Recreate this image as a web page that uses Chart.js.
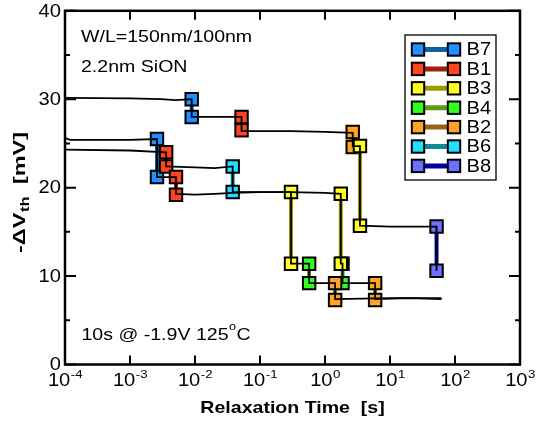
<!DOCTYPE html>
<html>
<head>
<meta charset="utf-8">
<script src="https://cdn.jsdelivr.net/npm/chart.js@4.4.0/dist/chart.umd.min.js"></script>
<style>
  html, body { margin: 0; padding: 0; background: #fff; }
  #wrap { width: 537px; height: 422px; }
</style>
</head>
<body>
<div id="wrap"><canvas id="chart" width="537" height="422"></canvas></div>
<script>
// relaxation traces (time in s, -dVth in mV)
const traceATime = [1e-4, 1e-3, 3e-3, 5e-3, 0.0089, 0.0089, 0.02, 0.052, 0.052, 0.3, 1.0, 2.67, 2.67, 3.45, 3.45, 10, 52, 52];
const traceAVth  = [30.15, 30.1, 30.0, 29.9, 30.0, 28.0, 28.0, 28.0, 26.4, 26.4, 26.3, 26.2, 24.7, 24.7, 15.7, 15.6, 15.6, 10.6];

const traceBTime = [1e-4, 1.2e-4, 1e-3, 0.0026, 0.0026, 0.0051, 0.0051, 0.01, 0.02, 0.038, 0.1, 0.3, 0.3, 0.57, 0.57, 1.43, 1.43, 10, 62];
const traceBVth  = [25.6, 25.4, 25.4, 25.5, 21.2, 21.2, 19.3, 19.2, 19.3, 19.4, 19.5, 19.5, 11.4, 11.4, 9.2, 9.2, 7.4, 7.5, 7.5];

const traceCTime = [1e-4, 1e-3, 0.0036, 0.0036, 0.01, 0.02, 0.038, 0.038, 0.3, 1.0, 1.75, 1.75, 1.86, 1.86, 5.9, 5.9, 20, 62];
const traceCVth  = [24.3, 24.2, 24.0, 22.4, 22.3, 22.2, 22.4, 19.5, 19.5, 19.4, 19.3, 11.4, 11.4, 9.2, 9.2, 7.4, 7.5, 7.4];

// single defect steps: emission time, level before, level after
const b7Time = [0.0089, 0.0026];       const b7Before = [30.0, 25.5];       const b7After = [28.0, 21.2];
const b1Time = [0.052, 0.0036, 0.0051]; const b1Before = [28.0, 24.0, 21.2]; const b1After = [26.5, 22.4, 19.2];
const b3Time = [3.45, 0.30, 1.75];     const b3Before = [24.7, 19.5, 19.3]; const b3After = [15.7, 11.4, 11.4];
const b4Time = [0.57, 1.86];           const b4Before = [11.4, 11.4];       const b4After = [9.2, 9.2];
const b2Time = [2.67, 1.43, 5.9];      const b2Before = [26.3, 9.2, 9.2];   const b2After = [24.6, 7.3, 7.3];
const b6Time = [0.038];                const b6Before = [22.4];             const b6After = [19.5];
const b8Time = [52];                   const b8Before = [15.6];             const b8After = [10.6];

const legendNames = ['B7', 'B1', 'B3', 'B4', 'B2', 'B6', 'B8'];

const xTickValues = [1e-4, 1e-3, 1e-2, 1e-1, 1e0, 1e1, 1e2, 1e3];
const yTickValues = [0, 10, 20, 30, 40];
const yMinorTicks = [5, 15, 25, 35];

const colors = {
  B7: ['#1e90ff', '#0f5fa5'],
  B1: ['#ff4420', '#a01e0a'],
  B3: ['#ffff22', '#9c9c00'],
  B4: ['#33ff1f', '#5c9a12'],
  B2: ['#ffa326', '#9c6012'],
  B6: ['#1ee1ff', '#0f8a9a'],
  B8: ['#6e6eff', '#0000a0']
};

const FONT = '"Liberation Sans", Arial, Helvetica, sans-serif';
const SX = 1.15;

function toPoints(t, v) {
  return t.map((x, i) => ({ x: x, y: v[i] }));
}

function stepPairs(t, before, after) {
  const out = [];
  t.forEach((x, i) => {
    if (i > 0) out.push({ x: x, y: null });
    out.push({ x: x, y: before[i] });
    out.push({ x: x, y: after[i] });
  });
  return out;
}

function trace(t, v) {
  return {
    data: toPoints(t, v),
    borderColor: '#000',
    borderWidth: 1.8,
    pointRadius: 0,
    tension: 0
  };
}

function defect(name, t, before, after) {
  return {
    label: name,
    data: stepPairs(t, before, after),
    borderColor: colors[name][1],
    borderWidth: 4,
    spanGaps: false,
    pointStyle: 'rect',
    pointRadius: 8.8,
    pointHoverRadius: 8.8,
    pointBackgroundColor: colors[name][0],
    pointBorderColor: '#000',
    pointBorderWidth: 2,
    tension: 0
  };
}

function txt(ctx, s, x, y, font, align, sx) {
  ctx.save();
  ctx.font = font;
  const w = ctx.measureText(s).width * sx;
  const x0 = align === 'center' ? x - w / 2 : align === 'right' ? x - w : x;
  ctx.translate(x0, y);
  ctx.scale(sx, 1);
  ctx.textAlign = 'left';
  ctx.fillText(s, 0, 0);
  ctx.restore();
  return w;
}

function textWidth(ctx, s, font) {
  ctx.save();
  ctx.font = font;
  const w = ctx.measureText(s).width;
  ctx.restore();
  return w;
}

const decorations = {
  id: 'decorations',
  afterDraw(chart) {
    const ctx = chart.ctx;
    const a = chart.chartArea;
    const xs = chart.scales.x, ys = chart.scales.y;
    ctx.save();
    ctx.fillStyle = '#000';
    ctx.strokeStyle = '#000';

    // inner ticks
    ctx.lineWidth = 2;
    ctx.beginPath();
    xTickValues.forEach(v => {
      const p = xs.getPixelForValue(v);
      ctx.moveTo(p, a.bottom); ctx.lineTo(p, a.bottom - 9);
      ctx.moveTo(p, a.top); ctx.lineTo(p, a.top + 9);
    });
    yTickValues.forEach(v => {
      const p = ys.getPixelForValue(v);
      ctx.moveTo(a.left, p); ctx.lineTo(a.left + 11, p);
      ctx.moveTo(a.right, p); ctx.lineTo(a.right - 11, p);
    });
    yMinorTicks.forEach(v => {
      const p = ys.getPixelForValue(v);
      ctx.moveTo(a.left, p); ctx.lineTo(a.left + 5, p);
      ctx.moveTo(a.right, p); ctx.lineTo(a.right - 5, p);
    });
    ctx.stroke();

    // frame
    ctx.lineWidth = 2.5;
    ctx.strokeRect(a.left, a.top, a.right - a.left, a.bottom - a.top);

    // y tick labels
    ctx.textBaseline = 'middle';
    yTickValues.forEach(v => {
      txt(ctx, String(v), a.left - 4, ys.getPixelForValue(v) + 1, '17.5px ' + FONT, 'right', SX);
    });

    // x tick labels as 10^n
    ctx.textBaseline = 'alphabetic';
    const baseFont = '17.5px ' + FONT, expFont = '11.5px ' + FONT;
    xTickValues.forEach(v => {
      const e = String(Math.round(Math.log10(v)));
      const wb = textWidth(ctx, '10', baseFont) * SX;
      const we = textWidth(ctx, e, expFont) * SX;
      const p = xs.getPixelForValue(v);
      const x0 = p - (wb + we) / 2;
      txt(ctx, '10', x0, 386, baseFont, 'left', SX);
      txt(ctx, e, x0 + wb + 0.5, 377.5, expFont, 'left', SX);
    });

    // x title
    txt(ctx, 'Relaxation Time  [s]', (a.left + a.right) / 2, 413, 'bold 17px ' + FONT, 'center', SX);

    // y title, rotated, with subscript
    const fMain = 'bold 17px ' + FONT, fSub = 'bold 12px ' + FONT;
    const p1 = '-\u0394V', p2 = 'th', p3 = '  [mV]';
    const w1 = textWidth(ctx, p1, fMain), w2 = textWidth(ctx, p2, fSub), w3 = textWidth(ctx, p3, fMain);
    const total = w1 + w2 + w3;
    const target = 121;
    const k = target / total;
    ctx.save();
    ctx.translate(25, 192.5 + target / 2);
    ctx.rotate(-Math.PI / 2);
    ctx.scale(k, 1);
    ctx.font = fMain; ctx.fillText(p1, 0, 0);
    ctx.font = fSub; ctx.fillText(p2, w1 + 0.5, 4);
    ctx.font = fMain; ctx.fillText(p3, w1 + w2, 0);
    ctx.restore();

    // annotations
    const fAnn = '17px ' + FONT;
    txt(ctx, 'W/L=150nm/100nm', 81, 41.5, fAnn, 'left', SX);
    txt(ctx, '2.2nm SiON', 81, 71.5, fAnn, 'left', SX);
    let w = txt(ctx, '10s @ -1.9V 125', 81.5, 339.5, fAnn, 'left', SX);
    const wo = txt(ctx, 'o', 81.5 + w + 0.5, 330, '11px ' + FONT, 'left', SX);
    txt(ctx, 'C', 81.5 + w + wo + 1, 339.5, fAnn, 'left', SX);

    // legend box
    ctx.lineWidth = 1.3;
    ctx.fillStyle = '#fff';
    ctx.fillRect(405, 35, 91, 145);
    ctx.strokeRect(405, 35, 91, 145);
    legendNames.forEach((name, i) => {
      const cy = 49.5 + i * 19.4;
      ctx.strokeStyle = colors[name][1];
      ctx.lineWidth = 5;
      ctx.beginPath();
      ctx.moveTo(418, cy); ctx.lineTo(454, cy);
      ctx.stroke();
      [418, 454].forEach(cx => {
        ctx.fillStyle = colors[name][0];
        ctx.fillRect(cx - 6.2, cy - 6.2, 12.4, 12.4);
        ctx.strokeStyle = '#000';
        ctx.lineWidth = 2;
        ctx.strokeRect(cx - 6.2, cy - 6.2, 12.4, 12.4);
      });
      ctx.fillStyle = '#000';
      ctx.textBaseline = 'middle';
      txt(ctx, name, 466.5, cy + 1, '17.5px ' + FONT, 'left', SX);
    });
    ctx.restore();
  }
};

new Chart(document.getElementById('chart'), {
  type: 'line',
  data: {
    datasets: [
      trace(traceATime, traceAVth),
      trace(traceBTime, traceBVth),
      trace(traceCTime, traceCVth),
      defect('B8', b8Time, b8Before, b8After),
      defect('B6', b6Time, b6Before, b6After),
      defect('B3', b3Time, b3Before, b3After),
      defect('B2', b2Time, b2Before, b2After),
      defect('B4', b4Time, b4Before, b4After),
      defect('B1', b1Time, b1Before, b1After),
      defect('B7', b7Time, b7Before, b7After)
    ]
  },
  options: {
    responsive: false,
    animation: false,
    events: [],
    layout: { padding: { left: 65, right: 17, top: 10, bottom: 57.5 } },
    scales: {
      x: {
        type: 'logarithmic', min: 1e-4, max: 1e3,
        ticks: { display: false }, grid: { display: false }, border: { display: false },
        afterFit: s => { s.height = 0; }
      },
      y: {
        type: 'linear', min: 0, max: 40,
        ticks: { display: false }, grid: { display: false }, border: { display: false },
        afterFit: s => { s.width = 0; }
      }
    },
    plugins: { legend: { display: false }, tooltip: { enabled: false } }
  },
  plugins: [decorations]
});
</script>
</body>
</html>
